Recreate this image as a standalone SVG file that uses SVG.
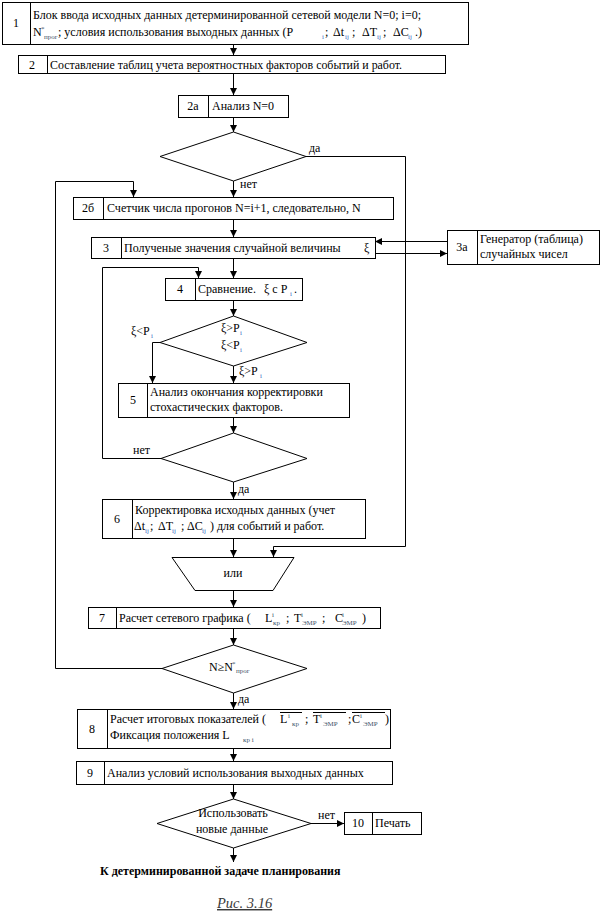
<svg xmlns="http://www.w3.org/2000/svg" width="602" height="916" viewBox="0 0 602 916" font-family="'Liberation Serif', 'Times New Roman', Tinos, 'DejaVu Serif', serif">
<style>
text{font-family:'Liberation Serif','Times New Roman',Tinos,'DejaVu Serif',serif}
.t{font-size:12px;fill:#000}
.m{text-anchor:middle}
.s{font-size:7px;fill:#3b6bc4}
.g{font-size:7px;fill:#44546a}
.box{fill:#fff;stroke:#000;stroke-width:1}
.ln{fill:none;stroke:#000;stroke-width:1}
.b{font-weight:bold}
.cap{font-style:italic;font-size:14.5px;fill:#3a3a3a;text-decoration:underline}
</style>
<defs>
<marker id="ar" markerUnits="userSpaceOnUse" markerWidth="8" markerHeight="8" refX="7" refY="3.5" orient="auto">
<path d="M0,0 L7,3.5 L0,7 z" fill="#000"/>
</marker>
</defs>
<rect width="602" height="916" fill="#fff"/>

<g id="connectors" class="ln">
<line x1="233.5" y1="44" x2="233.5" y2="55" marker-end="url(#ar)"/>
<line x1="233.5" y1="73" x2="233.5" y2="95" marker-end="url(#ar)"/>
<line x1="233.5" y1="117" x2="233.5" y2="132" marker-end="url(#ar)"/>
<polyline points="306,156.5 405.5,156.5 405.5,546.5 273.5,546.5 273.5,557" marker-end="url(#ar)"/>
<line x1="233.5" y1="181" x2="233.5" y2="197" marker-end="url(#ar)"/>
<polyline points="162,668.5 55.5,668.5 55.5,181.5 133.5,181.5 133.5,197" marker-end="url(#ar)"/>
<line x1="233.5" y1="219" x2="233.5" y2="237" marker-end="url(#ar)"/>
<line x1="447" y1="241.5" x2="375" y2="241.5" marker-end="url(#ar)"/>
<line x1="375" y1="253.5" x2="447" y2="253.5" marker-end="url(#ar)"/>
<line x1="233.5" y1="258" x2="233.5" y2="278" marker-end="url(#ar)"/>
<polyline points="161,458.5 102.5,458.5 102.5,267.5 198.5,267.5 198.5,278" marker-end="url(#ar)"/>
<line x1="233.5" y1="300" x2="233.5" y2="316" marker-end="url(#ar)"/>
<polyline points="160,342.5 152.5,342.5 152.5,383" marker-end="url(#ar)"/>
<line x1="233.5" y1="366" x2="233.5" y2="383" marker-end="url(#ar)"/>
<line x1="233.5" y1="417" x2="233.5" y2="433" marker-end="url(#ar)"/>
<line x1="233.5" y1="482" x2="233.5" y2="499" marker-end="url(#ar)"/>
<line x1="233.5" y1="538" x2="233.5" y2="557" marker-end="url(#ar)"/>
<line x1="233.5" y1="590" x2="233.5" y2="607" marker-end="url(#ar)"/>
<line x1="233.5" y1="628" x2="233.5" y2="645" marker-end="url(#ar)"/>
<line x1="233.5" y1="693" x2="233.5" y2="709" marker-end="url(#ar)"/>
<line x1="233.5" y1="748" x2="233.5" y2="761" marker-end="url(#ar)"/>
<line x1="233.5" y1="784" x2="233.5" y2="799" marker-end="url(#ar)"/>
<line x1="311" y1="823.5" x2="344" y2="823.5" marker-end="url(#ar)"/>
<line x1="233.5" y1="848" x2="233.5" y2="862" marker-end="url(#ar)"/>
</g>
<g id="connector-labels" class="t">
<text x="309" y="152">да</text>
<text x="240" y="188">нет</text>
<text x="131" y="335">ξ&lt;P<tspan class="s" x="151" y="338">i</tspan></text>
<text x="239" y="375">ξ&gt;P<tspan class="s" x="260" y="378">i</tspan></text>
<text x="133" y="454">нет</text>
<text x="238" y="493">да</text>
<text x="238" y="703">да</text>
<text x="318" y="819">нет</text>
</g>

<g id="n1">
<rect class="box" x="2.5" y="2.5" width="466" height="42"/>
<line class="ln" x1="30.5" y1="2.5" x2="30.5" y2="44.5"/>
<text class="t m" x="16" y="27">1</text>
<text class="t" x="33" y="19">Блок ввода исходных данных детерминированной сетевой модели N=0; i=0;</text>
<text class="t" x="33" y="36">N<tspan class="g" x="41" y="31">*</tspan><tspan class="g" x="44" y="39">прог</tspan><tspan x="58" y="36">; условия использования выходных данных (P</tspan><tspan class="s" x="322" y="39">i</tspan><tspan x="325" y="36">;</tspan><tspan x="333" y="36">Δt</tspan><tspan class="s" x="345" y="39">ij</tspan><tspan x="352" y="36">;</tspan><tspan x="362" y="36">ΔT</tspan><tspan class="s" x="377" y="39">ij</tspan><tspan x="383" y="36">;</tspan><tspan x="393" y="36">ΔC</tspan><tspan class="s" x="408" y="39">ij</tspan><tspan x="415" y="36">.)</tspan></text>
</g>

<g id="n2">
<rect class="box" x="18.5" y="55.5" width="427" height="18"/>
<line class="ln" x1="47.5" y1="55.5" x2="47.5" y2="73.5"/>
<text class="t m" x="32" y="69">2</text>
<text class="t" x="50" y="69" textLength="352" lengthAdjust="spacingAndGlyphs">Составление таблиц учета вероятностных факторов событий и работ.</text>
</g>

<g id="n2a">
<rect class="box" x="178.5" y="95.5" width="110" height="22"/>
<line class="ln" x1="208.5" y1="95.5" x2="208.5" y2="117.5"/>
<text class="t m" x="193" y="110">2а</text>
<text class="t" x="212" y="110">Анализ N=0</text>
</g>

<g id="d1">
<polygon class="box" points="233.5,132 306,156.5 233.5,181 160,156.5"/>
</g>

<g id="n2b">
<rect class="box" x="73.5" y="197.5" width="320" height="22"/>
<line class="ln" x1="103.5" y1="197.5" x2="103.5" y2="219.5"/>
<text class="t m" x="88" y="212">2б</text>
<text class="t" x="107" y="212">Счетчик числа прогонов N=i+1, следовательно, N</text>
</g>

<g id="n3">
<rect class="box" x="91.5" y="237.5" width="284" height="21"/>
<line class="ln" x1="121.5" y1="237.5" x2="121.5" y2="258.5"/>
<text class="t m" x="106" y="252">3</text>
<text class="t" x="124" y="252">Полученые значения случайной величины</text>
<text class="t" x="364" y="252">ξ</text>
</g>

<g id="n3a">
<rect class="box" x="447.5" y="230.5" width="152" height="34"/>
<line class="ln" x1="477.5" y1="230.5" x2="477.5" y2="264.5"/>
<text class="t m" x="462" y="251">3а</text>
<text class="t" x="480" y="243">Генератор (таблица)</text>
<text class="t" x="480" y="258">случайных чисел</text>
</g>

<g id="n4">
<rect class="box" x="165.5" y="278.5" width="137" height="22"/>
<line class="ln" x1="195.5" y1="278.5" x2="195.5" y2="300.5"/>
<text class="t m" x="180" y="293">4</text>
<text class="t" x="198" y="293">Сравнение.<tspan x="264">ξ с P</tspan><tspan class="s" x="290" y="296">i</tspan><tspan x="294" y="293">.</tspan></text>
</g>

<g id="d2">
<polygon class="box" points="233.5,316 307,342.5 233.5,366 160,342.5"/>
<text class="t" x="221" y="332">ξ&gt;P<tspan class="s" x="240" y="335">i</tspan></text>
<text class="t" x="221" y="349">ξ&lt;P<tspan class="s" x="240" y="352">i</tspan></text>
</g>

<g id="n5">
<rect class="box" x="118.5" y="383.5" width="231" height="34"/>
<line class="ln" x1="147.5" y1="383.5" x2="147.5" y2="417.5"/>
<text class="t m" x="133" y="404">5</text>
<text class="t" x="150" y="396">Анализ окончания корректировки</text>
<text class="t" x="150" y="411">стохастических факторов.</text>
</g>

<g id="d3">
<polygon class="box" points="233.5,433 307,458.5 233.5,482 161,458.5"/>
</g>

<g id="n6">
<rect class="box" x="102.5" y="499.5" width="263" height="39"/>
<line class="ln" x1="132.5" y1="499.5" x2="132.5" y2="538.5"/>
<text class="t m" x="117" y="523">6</text>
<text class="t" x="135" y="514">Корректировка исходных данных (учет</text>
<text class="t" x="134" y="530">Δt<tspan class="s" x="145" y="533">ij</tspan><tspan x="150" y="530">;</tspan><tspan x="158" y="530">ΔT</tspan><tspan class="s" x="172" y="533">ij</tspan><tspan x="181" y="530">;</tspan><tspan x="187" y="530">ΔC</tspan><tspan class="s" x="202" y="533">ij</tspan><tspan x="210" y="530">) для событий и работ.</tspan></text>
</g>

<g id="or">
<polygon class="box" points="172,557.5 294,557.5 273,590.5 195,590.5"/>
<text class="t m" x="233" y="577">или</text>
</g>

<g id="n7">
<rect class="box" x="88.5" y="607.5" width="292" height="21"/>
<line class="ln" x1="116.5" y1="607.5" x2="116.5" y2="628.5"/>
<text class="t m" x="102" y="622">7</text>
<text class="t" x="119" y="622">Расчет сетевого графика (<tspan x="265">L</tspan><tspan class="g" x="272" y="617">i</tspan><tspan class="g" x="273" y="625">кр</tspan><tspan x="286" y="622">;</tspan><tspan x="294" y="622">T</tspan><tspan class="g" x="301" y="617">i</tspan><tspan class="g" x="302" y="625">ЭМР</tspan><tspan x="322" y="622">;</tspan><tspan x="335" y="622">C</tspan><tspan class="g" x="342" y="617">i</tspan><tspan class="g" x="342" y="625">ЭМР</tspan><tspan x="362" y="622">)</tspan></text>
</g>

<g id="d4">
<polygon class="box" points="233.5,645 307,668.5 233.5,693 162,668.5"/>
<text class="t" x="209" y="671">N≥N<tspan class="g" x="232" y="666">*</tspan><tspan class="g" x="236" y="673">прог</tspan></text>
</g>

<g id="n8">
<rect class="box" x="77.5" y="709.5" width="313" height="39"/>
<line class="ln" x1="107.5" y1="709.5" x2="107.5" y2="748.5"/>
<text class="t m" x="92" y="733">8</text>
<text class="t" x="110" y="723">Расчет итоговых показателей (<tspan x="280">L</tspan><tspan class="g" x="288" y="718">i</tspan><tspan class="g" x="292" y="726">кр</tspan><tspan x="305" y="723">;</tspan><tspan x="313" y="723">T</tspan><tspan class="g" x="320" y="718">i</tspan><tspan class="g" x="323" y="726">ЭМР</tspan><tspan x="348" y="723">;</tspan><tspan x="352" y="723">C</tspan><tspan class="g" x="360" y="718">i</tspan><tspan class="g" x="363" y="726">ЭМР</tspan><tspan x="385" y="723">)</tspan></text>
<path class="ln" d="M280,712.5 H302 M313,712.5 H346 M352,712.5 H385"/>
<text class="t" x="110" y="739">Фиксация положения L<tspan class="g" x="243" y="742">кр i</tspan></text>
</g>

<g id="n9">
<rect class="box" x="76.5" y="761.5" width="316" height="23"/>
<line class="ln" x1="104.5" y1="761.5" x2="104.5" y2="784.5"/>
<text class="t m" x="90" y="777">9</text>
<text class="t" x="107" y="777">Анализ условий использования выходных данных</text>
</g>

<g id="d5">
<polygon class="box" points="233.5,799 311,823.5 233.5,848 157,823.5"/>
<text class="t m" x="233" y="817">Использовать</text>
<text class="t m" x="232" y="833">новые данные</text>
</g>

<g id="n10">
<rect class="box" x="344.5" y="812.5" width="77" height="22"/>
<line class="ln" x1="372.5" y1="812.5" x2="372.5" y2="834.5"/>
<text class="t m" x="358" y="827">10</text>
<text class="t" x="375" y="827">Печать</text>
</g>

<g id="end">
<text class="t b" x="100" y="875">К детерминированной задаче планирования</text>
</g>
<text class="t cap" x="217" y="908">Рис. 3.16</text>
</svg>
